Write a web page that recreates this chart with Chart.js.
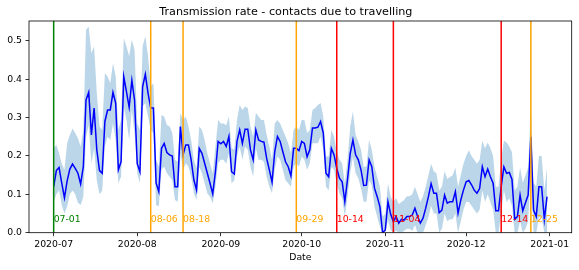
<!DOCTYPE html>
<html>
<head>
<meta charset="utf-8">
<script src="https://cdn.jsdelivr.net/npm/chart.js@4.4.1/dist/chart.umd.min.js"></script>
<style>
  html, body { margin: 0; padding: 0; background: #fff; }
  #wrap { width: 579px; height: 270px; }
</style>
</head>
<body>
<div id="wrap"><canvas id="rateChart" width="579" height="270"></canvas></div>
<script>
// Daily values, 2020-07-01 .. 2020-12-31
const startDate = '2020-07-01';

const meanRate = [
    0.120, 0.162, 0.170, 0.129, 0.091, 0.135, 0.166, 0.179, 0.168, 0.155,
    0.127, 0.172, 0.346, 0.366, 0.255, 0.325, 0.216, 0.162, 0.155, 0.290,
    0.320, 0.320, 0.366, 0.338, 0.164, 0.185, 0.407, 0.368, 0.327, 0.397,
    0.346, 0.180, 0.159, 0.381, 0.413, 0.364, 0.325, 0.325, 0.129, 0.107,
    0.220, 0.233, 0.209, 0.203, 0.200, 0.120, 0.120, 0.277, 0.203, 0.229,
    0.229, 0.190, 0.138, 0.111, 0.220, 0.207, 0.181, 0.155, 0.129, 0.101,
    0.159, 0.238, 0.232, 0.238, 0.225, 0.251, 0.159, 0.153, 0.238, 0.268,
    0.233, 0.270, 0.270, 0.216, 0.190, 0.268, 0.242, 0.238, 0.236, 0.194,
    0.164, 0.132, 0.211, 0.251, 0.238, 0.211, 0.185, 0.172, 0.148, 0.220,
    0.220, 0.214, 0.238, 0.233, 0.198, 0.216, 0.273, 0.273, 0.275, 0.290,
    0.260, 0.155, 0.146, 0.220, 0.203, 0.168, 0.142, 0.133, 0.081, 0.139,
    0.207, 0.242, 0.203, 0.190, 0.164, 0.123, 0.124, 0.190, 0.172, 0.116,
    0.094, 0.068, 0.000, 0.007, 0.081, 0.048, 0.029, 0.042, 0.025, 0.035,
    0.033, 0.042, 0.042, 0.046, 0.064, 0.042, 0.025, 0.038, 0.064, 0.094,
    0.128, 0.103, 0.103, 0.052, 0.059, 0.098, 0.077, 0.081, 0.081, 0.107,
    0.051, 0.085, 0.111, 0.133, 0.136, 0.125, 0.111, 0.103, 0.115, 0.172,
    0.146, 0.166, 0.146, 0.129, 0.057, 0.057, 0.120, 0.172, 0.155, 0.157,
    0.139, 0.035, 0.042, 0.098, 0.057, 0.078, 0.098, 0.250, 0.059, 0.042,
    0.120, 0.120, 0.035, 0.094
];

const upperRate = [
    0.220, 0.229, 0.207, 0.180, 0.164, 0.233, 0.255, 0.272, 0.260, 0.246,
    0.225, 0.268, 0.529, 0.537, 0.468, 0.486, 0.364, 0.277, 0.268, 0.416,
    0.407, 0.390, 0.442, 0.407, 0.268, 0.294, 0.507, 0.486, 0.460, 0.503,
    0.477, 0.285, 0.268, 0.486, 0.512, 0.460, 0.381, 0.390, 0.190, 0.172,
    0.307, 0.303, 0.281, 0.277, 0.260, 0.190, 0.185, 0.312, 0.294, 0.303,
    0.277, 0.242, 0.190, 0.168, 0.277, 0.268, 0.242, 0.207, 0.181, 0.155,
    0.225, 0.294, 0.285, 0.285, 0.280, 0.303, 0.220, 0.216, 0.294, 0.333,
    0.320, 0.329, 0.325, 0.277, 0.251, 0.312, 0.303, 0.294, 0.294, 0.255,
    0.225, 0.190, 0.285, 0.294, 0.285, 0.268, 0.251, 0.233, 0.207, 0.268,
    0.277, 0.268, 0.294, 0.294, 0.260, 0.268, 0.320, 0.325, 0.333, 0.338,
    0.303, 0.199, 0.199, 0.268, 0.251, 0.211, 0.190, 0.181, 0.129, 0.190,
    0.277, 0.316, 0.255, 0.238, 0.216, 0.172, 0.172, 0.242, 0.216, 0.172,
    0.146, 0.120, 0.042, 0.050, 0.129, 0.094, 0.080, 0.090, 0.075, 0.080,
    0.085, 0.095, 0.095, 0.100, 0.120, 0.100, 0.080, 0.095, 0.120, 0.150,
    0.180, 0.160, 0.155, 0.110, 0.120, 0.160, 0.140, 0.145, 0.150, 0.170,
    0.120, 0.150, 0.180, 0.200, 0.215, 0.200, 0.190, 0.180, 0.190, 0.240,
    0.220, 0.235, 0.220, 0.200, 0.120, 0.120, 0.190, 0.240, 0.235, 0.225,
    0.210, 0.110, 0.120, 0.170, 0.130, 0.150, 0.170, 0.330, 0.130, 0.120,
    0.200, 0.200, 0.110, 0.170
];

const lowerRate = [
    0.080, 0.100, 0.110, 0.072, 0.050, 0.068, 0.100, 0.110, 0.100, 0.078,
    0.072, 0.094, 0.250, 0.280, 0.180, 0.220, 0.137, 0.100, 0.110, 0.225,
    0.250, 0.242, 0.285, 0.242, 0.129, 0.146, 0.330, 0.294, 0.242, 0.320,
    0.260, 0.155, 0.129, 0.330, 0.338, 0.303, 0.268, 0.260, 0.072, 0.068,
    0.164, 0.172, 0.155, 0.146, 0.137, 0.085, 0.081, 0.207, 0.164, 0.181,
    0.172, 0.146, 0.103, 0.085, 0.172, 0.155, 0.129, 0.103, 0.094, 0.077,
    0.120, 0.181, 0.190, 0.190, 0.180, 0.207, 0.129, 0.137, 0.199, 0.225,
    0.190, 0.225, 0.216, 0.172, 0.146, 0.220, 0.190, 0.190, 0.185, 0.146,
    0.120, 0.103, 0.164, 0.199, 0.190, 0.164, 0.137, 0.129, 0.120, 0.172,
    0.181, 0.172, 0.199, 0.190, 0.164, 0.181, 0.233, 0.233, 0.233, 0.251,
    0.216, 0.120, 0.111, 0.172, 0.164, 0.129, 0.103, 0.090, 0.042, 0.094,
    0.155, 0.199, 0.155, 0.142, 0.116, 0.081, 0.081, 0.137, 0.124, 0.068,
    0.042, 0.016, 0.000, 0.000, 0.033, 0.007, 0.000, 0.005, 0.000, 0.000,
    0.005, 0.010, 0.010, 0.005, 0.020, 0.000, 0.000, 0.000, 0.020, 0.040,
    0.070, 0.050, 0.050, 0.000, 0.010, 0.050, 0.030, 0.035, 0.035, 0.050,
    0.000, 0.030, 0.060, 0.080, 0.080, 0.070, 0.060, 0.050, 0.060, 0.110,
    0.080, 0.100, 0.080, 0.060, 0.000, 0.000, 0.050, 0.110, 0.080, 0.090,
    0.070, 0.000, 0.000, 0.030, 0.000, 0.010, 0.030, 0.170, 0.000, 0.000,
    0.040, 0.040, 0.000, 0.000
];

// Axis ticks
const monthTicks = ['2020-07-01', '2020-08-01', '2020-09-01', '2020-10-01', '2020-11-01', '2020-12-01', '2021-01-01'];
const monthLabels = ['2020-07', '2020-08', '2020-09', '2020-10', '2020-11', '2020-12', '2021-01'];
const yTicks = [0, 0.1, 0.2, 0.3, 0.4, 0.5];

// Marked dates
const eventDates = ['2020-07-01', '2020-08-06', '2020-08-18', '2020-09-29', '2020-10-14', '2020-11-04', '2020-12-14', '2020-12-25'];
const eventLabels = ['07-01', '08-06', '08-18', '09-29', '10-14', '11-04', '12-14', '12-25'];
const eventColors = ['green', 'orange', 'orange', 'orange', 'red', 'red', 'red', 'orange'];
const eventLabelY = 0.033;

const FONT = 'DejaVu Sans';

function dayOffset(d) {
    return Math.round((Date.parse(d) - Date.parse(startDate)) / 86400000);
}

const span = meanRate.length - 1;
const xMin = -0.05 * span;
const xMax = span + 0.05 * span;

const eventLines = {
    id: 'eventLines',
    afterDatasetsDraw(chart) {
        const { ctx, chartArea, scales } = chart;
        ctx.save();
        ctx.beginPath();
        ctx.rect(chartArea.left, chartArea.top, chartArea.right - chartArea.left, chartArea.bottom - chartArea.top);
        ctx.clip();
        ctx.lineWidth = 1.5;
        eventDates.forEach((d, i) => {
            const px = scales.x.getPixelForValue(dayOffset(d));
            ctx.strokeStyle = eventColors[i];
            ctx.beginPath();
            ctx.moveTo(px, chartArea.top);
            ctx.lineTo(px, chartArea.bottom);
            ctx.stroke();
        });
        ctx.restore();

        ctx.save();
        ctx.font = '9.3px "' + FONT + '"';
        ctx.textAlign = 'left';
        ctx.textBaseline = 'middle';
        const ty = scales.y.getPixelForValue(eventLabelY);
        eventDates.forEach((d, i) => {
            const px = scales.x.getPixelForValue(dayOffset(d));
            ctx.fillStyle = eventColors[i];
            ctx.fillText(eventLabels[i], px, ty);
        });
        ctx.restore();
    },
    afterDraw(chart) {
        const { ctx, chartArea } = chart;
        ctx.save();
        ctx.strokeStyle = '#000';
        ctx.lineWidth = 0.8;
        ctx.strokeRect(chartArea.left, chartArea.top, chartArea.right - chartArea.left, chartArea.bottom - chartArea.top);
        ctx.restore();
    }
};

const ctx = document.getElementById('rateChart');
new Chart(ctx, {
    type: 'line',
    data: {
        datasets: [
            {
                label: 'mean',
                data: meanRate.map((v, i) => ({ x: i, y: v })),
                borderColor: '#0000ff',
                borderWidth: 1.5,
                pointRadius: 0,
                tension: 0,
                fill: false
            },
            {
                label: 'lower',
                data: lowerRate.map((v, i) => ({ x: i, y: v })),
                borderWidth: 0,
                borderColor: 'rgba(0,0,0,0)',
                pointRadius: 0,
                tension: 0,
                fill: false
            },
            {
                label: 'upper',
                data: upperRate.map((v, i) => ({ x: i, y: v })),
                borderWidth: 0,
                borderColor: 'rgba(0,0,0,0)',
                backgroundColor: 'rgba(31,119,180,0.3)',
                pointRadius: 0,
                tension: 0,
                fill: '-1'
            }
        ]
    },
    options: {
        responsive: false,
        animation: false,
        devicePixelRatio: 1,
        layout: { padding: { left: 0, right: 7.3, top: 0, bottom: 0 } },
        plugins: {
            legend: { display: false },
            tooltip: { enabled: false },
            title: {
                display: true,
                text: 'Transmission rate - contacts due to travelling',
                color: '#000',
                font: { family: FONT, size: 11.2, weight: 'normal' },
                padding: { top: 5, bottom: 2.56 }
            }
        },
        scales: {
            x: {
                type: 'linear',
                min: xMin,
                max: xMax,
                border: { display: false },
                grid: { drawOnChartArea: false, drawTicks: true, tickLength: 3.5, color: '#000', lineWidth: 0.8 },
                afterBuildTicks(scale) {
                    scale.ticks = monthTicks.map(d => ({ value: dayOffset(d) }));
                },
                afterFit(scale) {
                    scale.height = 270 - 232.7;
                },
                ticks: {
                    autoSkip: false,
                    maxRotation: 0,
                    padding: 2.5,
                    color: '#000',
                    font: { family: FONT, size: 9.3 },
                    callback: (v, i) => monthLabels[i]
                },
                title: {
                    display: true,
                    text: 'Date',
                    color: '#000',
                    font: { family: FONT, size: 9.3 },
                    padding: { top: 0, bottom: 6.4 }
                }
            },
            y: {
                min: 0,
                max: 0.552,
                border: { display: false },
                grid: { drawOnChartArea: false, drawTicks: true, tickLength: 3.5, color: '#000', lineWidth: 0.8 },
                afterBuildTicks(scale) {
                    scale.ticks = yTicks.map(v => ({ value: v }));
                },
                afterFit(scale) {
                    scale.width = 29;
                },
                ticks: {
                    padding: 3.5,
                    color: '#000',
                    font: { family: FONT, size: 9.3 },
                    callback: v => v.toFixed(1)
                }
            }
        }
    },
    plugins: [eventLines]
});
</script>
</body>
</html>
